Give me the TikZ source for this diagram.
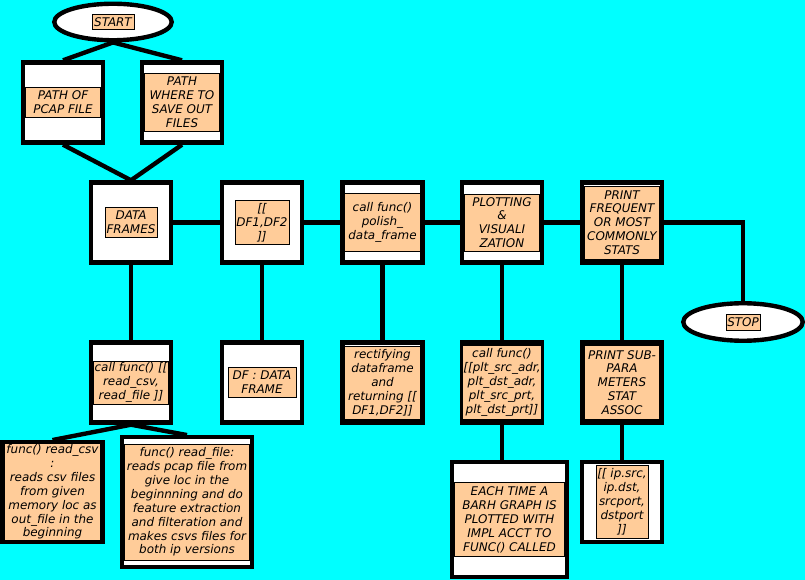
\documentclass[tikz,border=0pt]{standalone}
\usepackage{fontspec}
\setmainfont{DejaVu Sans}
\usetikzlibrary{shapes.geometric}
\definecolor{bgcyan}{HTML}{00FFFF}
\definecolor{peach}{HTML}{FFCC99}
\begin{document}
\begin{tikzpicture}[every node/.style={font=\fontsize{6.8}{7.9}\selectfont\itshape},
    box/.style={draw, line width=2.5pt, fill=white, minimum width=1.6cm, minimum height=1.6cm, inner sep=0pt},
    oval/.style={ellipse, draw, line width=2.5pt, fill=white, inner sep=0pt},
    lbl/.style={draw, line width=0.5pt, fill=peach, align=center, inner sep=0.5pt},
    link/.style={line width=2.5pt}]
    % background
    \fill[bgcyan] (0,0) rectangle (16.1,11.6);
    \useasboundingbox (0,0) rectangle (16.1,11.6);
    % start and inputs
    \node[oval, minimum width=2.35cm, minimum height=0.73cm] (start) at (2.26,11.16) {};
    \node[lbl, minimum width=0.84cm, minimum height=0.3cm] (starttxt) at (start) {START};
    \node[box] (pcap) at (1.26,9.55) {};
    \node[lbl, minimum width=1.51cm, minimum height=0.6cm] (pcaptxt) at (pcap) {PATH OF\\PCAP FILE};
    \node[box] (savepath) at (3.64,9.55) {};
    \node[lbl, minimum width=1.51cm, minimum height=1.16cm] (savetxt) at (savepath) {PATH\\WHERE TO\\SAVE OUT\\FILES};
    % main row
    \node[box] (frames) at (2.62,7.15) {};
    \node[lbl, minimum width=1.04cm, minimum height=0.6cm] (framestxt) at (frames) {DATA\\FRAMES};
    \node[box] (dfpair) at (5.24,7.15) {};
    \node[lbl, minimum width=1.08cm, minimum height=0.88cm] (dfpairtxt) at (dfpair) {[[\\DF1,DF2\\]]};
    \node[box] (polish) at (7.65,7.15) {};
    \node[lbl, minimum width=1.51cm, minimum height=1.16cm] (polishtxt) at (polish) {call func()\\polish\_\\data\_frame};
    \node[box] (plotting) at (10.04,7.15) {};
    \node[lbl, minimum width=1.51cm, minimum height=1.14cm] (plottxt) at (plotting) {PLOTTING\\\&\\VISUALI\\ZATION};
    \node[box] (freq) at (12.44,7.15) {};
    \node[lbl, minimum width=1.51cm, minimum height=1.46cm] (freqtxt) at (freq) {PRINT\\FREQUENT\\OR MOST\\COMMONLY\\STATS};
    \node[oval, minimum width=2.39cm, minimum height=0.75cm] (stop) at (14.86,5.16) {};
    \node[lbl, minimum width=0.68cm, minimum height=0.32cm] (stoptxt) at (stop) {STOP};
    % second row
    \node[box] (callread) at (2.62,3.95) {};
    \node[lbl, minimum width=1.44cm, minimum height=0.86cm] (callreadtxt) at (callread) {call func() [[\\read\_csv,\\read\_file ]]};
    \node[box] (dfnote) at (5.24,3.95) {};
    \node[lbl, minimum width=1.36cm, minimum height=0.6cm] (dfnotetxt) at (dfnote) {DF : DATA\\FRAME};
    \node[box] (rectify) at (7.65,3.95) {};
    \node[lbl, minimum width=1.51cm, minimum height=1.46cm] (rectifytxt) at (rectify) {rectifying\\dataframe\\and\\returning [[\\DF1,DF2]]};
    \node[box] (pltcall) at (10.04,3.95) {};
    \node[lbl, minimum width=1.51cm, minimum height=1.48cm] (pltcalltxt) at (pltcall) {call func()\\{}[[plt\_src\_adr,\\plt\_dst\_adr,\\plt\_src\_prt,\\plt\_dst\_prt]]};
    \node[box] (printsub) at (12.44,3.95) {};
    \node[lbl, minimum width=1.51cm, minimum height=1.48cm] (printsubtxt) at (printsub) {PRINT SUB-\\PARA\\METERS\\STAT\\ASSOC};
    % third row
    \node[box, minimum width=2.01cm, minimum height=1.99cm] (readcsv) at (1.05,1.76) {};
    \node[lbl, minimum width=1.92cm, minimum height=1.9cm] (readcsvtxt) at (readcsv) {func() read\_csv\\:\\reads csv files\\from given\\memory loc as\\out\_file in the\\beginning};
    \node[box, minimum width=2.59cm, minimum height=2.59cm] (readfile) at (3.74,1.56) {};
    \node[lbl, minimum width=2.5cm, minimum height=2.32cm] (readfiletxt) at (readfile) {func() read\_file:\\reads pcap file from\\give loc in the\\beginnning and do\\feature extraction\\and filteration and\\makes csvs files for\\both ip versions};
    \node[box, minimum width=2.29cm, minimum height=2.3cm] (eachtime) at (10.19,1.205) {};
    \node[lbl, minimum width=2.2cm, minimum height=1.48cm] (eachtimetxt) at (eachtime) {EACH TIME A\\BARH GRAPH IS\\PLOTTED WITH\\IMPL ACCT TO\\FUNC() CALLED};
    \node[box] (ipfields) at (12.44,1.56) {};
    \node[lbl, minimum width=1.04cm, minimum height=1.46cm] (ipfieldstxt) at (ipfields) {[[ ip.src,\\ip.dst,\\srcport,\\dstport\\]]};
    % connectors
    \draw[link] (start.south) -- (pcap.north);
    \draw[link] (start.south) -- (savepath.north);
    \draw[link] (pcap.south) -- (frames.north);
    \draw[link] (savepath.south) -- (frames.north);
    \draw[link] (frames) -- (dfpair) -- (polish) -- (plotting) -- (freq);
    \draw[link] (freq) -| (stop);
    \foreach \a/\b in {frames/callread, dfpair/dfnote, polish/rectify, plotting/pltcall, freq/printsub, printsub/ipfields}
      \draw[link] (\a) -- (\b);
    \draw[link] (callread.south) -- (readcsv.north);
    \draw[link] (callread.south) -- (readfile.north);
    \draw[link] (pltcall.south) -- (pltcall.south |- eachtime.north);
  \end{tikzpicture}
\end{document}
